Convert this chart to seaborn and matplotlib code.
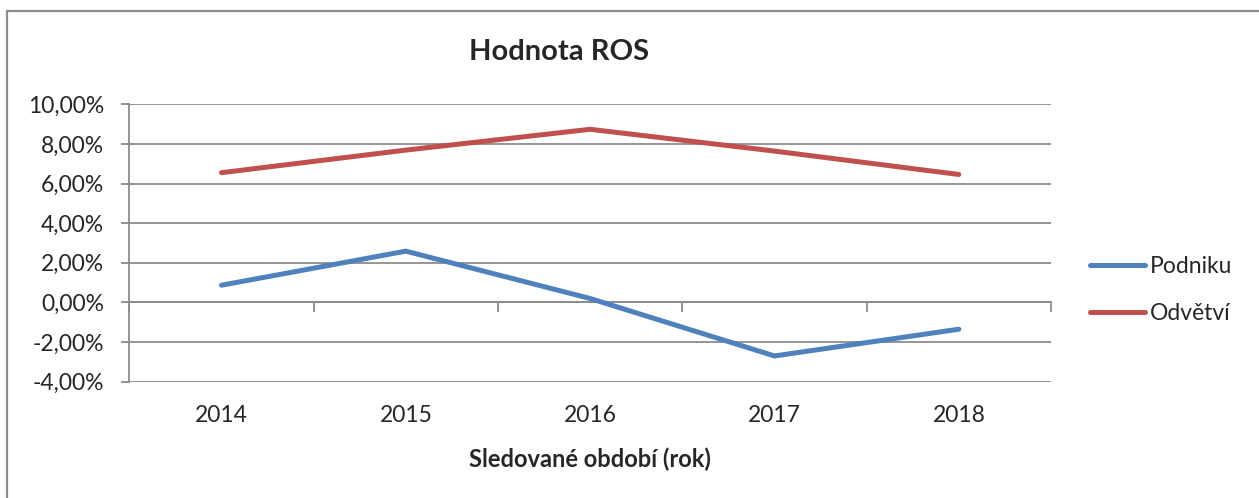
import pandas as pd
import numpy as np
import matplotlib.pyplot as plt
import seaborn as sns
from matplotlib.lines import Line2D
from matplotlib.ticker import FuncFormatter

# values (ROS in %)
years = ["2014", "2015", "2016", "2017", "2018"]
podniku = [0.87, 2.59, 0.20, -2.70, -1.35]
odvetvi = [6.55, 7.69, 8.74, 7.64, 6.46]
series_names = ["Podniku", "Odvětví"]
y_ticks = [-4, -2, 0, 2, 4, 6, 8, 10]

df = pd.DataFrame({
    "rok": years * 2,
    "ROS": podniku + odvetvi,
    "serie": [series_names[0]] * len(years) + [series_names[1]] * len(years),
})

sns.set_style("white")
plt.rcParams["font.family"] = ["Lato", "DejaVu Sans"]

grid_col = "#8c8c8c"
fig = plt.figure(figsize=(12.59, 4.98), dpi=100)
ax = fig.add_axes([0.1027, 0.2335, 0.7321, 0.557])

sns.lineplot(data=df, x="rok", y="ROS", hue="serie", sort=False,
             palette={"Podniku": "#4F81BD", "Odvětví": "#C0504D"},
             linewidth=3.6, ax=ax, legend=True)
for ln in ax.get_lines():
    ln.set_solid_capstyle("round")
    ln.set_solid_joinstyle("miter")

ax.set_xlim(-0.5, len(years) - 0.5)
ax.set_ylim(-4, 10)
ax.set_yticks(y_ticks)
ax.yaxis.set_major_formatter(FuncFormatter(lambda v, p: f"{v:.2f}%".replace(".", ",")))
ax.tick_params(axis="y", direction="out", length=6, width=1.3, color=grid_col,
               labelsize=16.5, pad=12, left=True)
ax.tick_params(axis="x", length=0, labelsize=16.5, pad=17)
ax.grid(axis="y", color=grid_col, linewidth=1.3)
ax.set_axisbelow(True)

for s in ["top", "right", "bottom"]:
    ax.spines[s].set_visible(False)
ax.spines["left"].set_color(grid_col)
ax.spines["left"].set_linewidth(1.3)

# category axis crossing at 0 with boundary ticks
sec = ax.secondary_xaxis(4 / 14)
sec.set_xticks(np.arange(-0.5, len(years), 1.0))
sec.tick_params(axis="x", direction="out", length=7, width=1.3, color=grid_col,
                labelbottom=False, labeltop=False)
sec.spines["bottom"].set_color(grid_col)
sec.spines["bottom"].set_linewidth(1.3)

ax.set_ylabel("")
ax.set_xlabel("Sledované období (rok)", fontsize=17, fontweight="bold", labelpad=15)

fig.text(559 / 1259, 1 - 52 / 498, "Hodnota ROS", fontsize=21, fontweight="bold",
         ha="center", va="center")

handles, labels = ax.get_legend_handles_labels()
ax.legend(handles, labels, loc="center left", bbox_to_anchor=(1090 / 1259, 0.418),
          bbox_transform=fig.transFigure, frameon=False, fontsize=16.5,
          handlelength=2.4, handletextpad=0.2, labelspacing=1.15,
          borderpad=0, borderaxespad=0)

# outer chart border
fig.add_artist(Line2D([7 / 1259, 7 / 1259], [0, 1 - 11 / 498], transform=fig.transFigure,
                      color=grid_col, linewidth=1.6))
fig.add_artist(Line2D([7 / 1259, 1], [1 - 11 / 498, 1 - 11 / 498], transform=fig.transFigure,
                      color=grid_col, linewidth=1.6))

plt.savefig("out.png", dpi=100)
